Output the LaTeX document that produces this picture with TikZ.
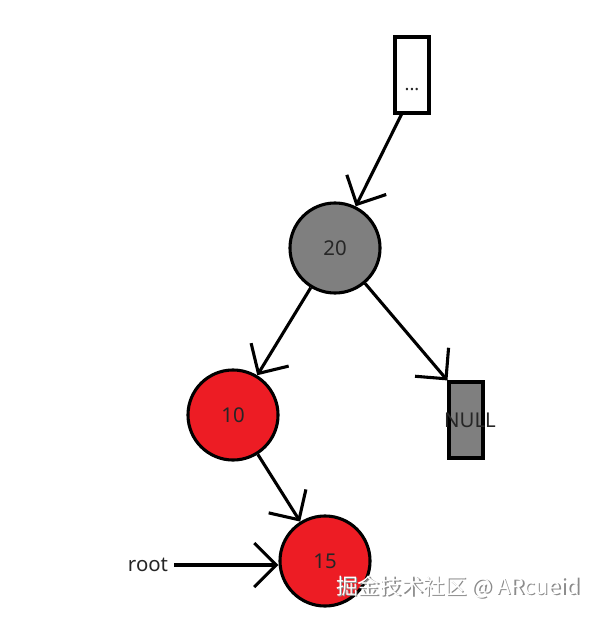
\documentclass[tikz,border=0pt]{standalone}
\usepackage{fontspec}
\setmainfont{Noto Sans}
\newfontfamily\cjkfont{Noto Sans CJK SC}
\usetikzlibrary{arrows.meta}

\definecolor{rbred}{HTML}{ED1C24}
\definecolor{rbgray}{HTML}{7F7F7F}

\begin{document}
\begin{tikzpicture}[x=0.025cm,y=-0.025cm,
  line width=2.2pt,
  every node/.style={font=\fontsize{14.5}{17}\selectfont,text=black!85},
  rbnode/.style={circle,draw,minimum size=2.25cm,inner sep=0pt},
  rednode/.style={rbnode,fill=rbred},
  blacknode/.style={rbnode,fill=rbgray},
  ptrbox/.style={rectangle,draw,minimum width=0.85cm,minimum height=1.9cm,inner sep=0pt},
  link/.style={-{Straight Barb[length=5.5mm,width=11mm]}}]

\useasboundingbox (0,0) rectangle (589,617);

% boxes
\node[ptrbox,fill=white] (up) at (412,75) {};
\node[font=\fontsize{13}{15}\selectfont] (dots) at (412,90) {...};
\node[ptrbox,fill=rbgray] (nil) at (466,420) {};
\node (niltext) at (470,420) {NULL};

% tree nodes
\node[blacknode] (N20) at (335,248) {20};
\node[rednode] (N10) at (233,415) {10};
\node[rednode] (N15) at (325,561) {15};
\node (root) at (148,565) {root};

% links
\draw[link] (up.-105) -- (N20);
\draw[link] (N20) -- (N10);
\draw[link] (N20) -- (nil.north west);
\draw[link] (N10) -- (N15);
\draw[link] (root.east) -- (root.east -| N15.west);

% watermark
\node[text=black!45,font=\cjkfont\fontsize{15.5}{18}\selectfont] at (459.6,588.6) {掘金技术社区 @ ARcueid};
\node[text=white,font=\cjkfont\fontsize{15.5}{18}\selectfont] (mark) at (458,587) {掘金技术社区 @ ARcueid};

\end{tikzpicture}
\end{document}
